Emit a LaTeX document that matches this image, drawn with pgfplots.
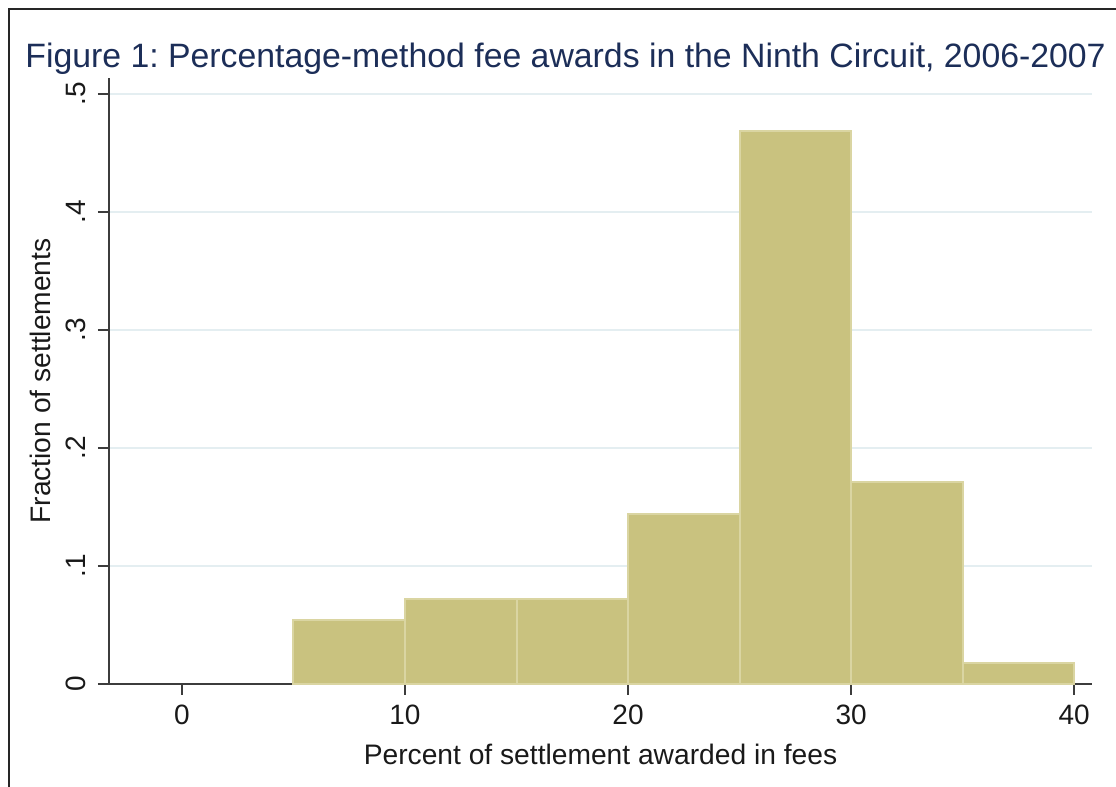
\documentclass[border=0pt]{standalone}
\usepackage{pgfplots}
\pgfplotsset{compat=1.18}
\usepackage{fontspec}
\setmainfont{Liberation Sans}
\frenchspacing
\definecolor{barfill}{RGB}{201,194,127}
\definecolor{baredge}{RGB}{218,213,162}
\definecolor{gridc}{RGB}{228,238,241}
\definecolor{titlec}{RGB}{28,46,88}
\definecolor{axc}{RGB}{60,60,60}
\begin{document}
\begin{tikzpicture}
\useasboundingbox (0,0) rectangle (558pt,393.5pt);
\draw[line width=1.2pt, color=black!85] (4.5pt,-20pt) -- (4.5pt,389pt) -- (580pt,389pt);
\node[anchor=base west, inner sep=0pt, font=\fontsize{16.9}{20}\selectfont, text=titlec] at (12.5pt,359.5pt) {Figure 1: Percentage-method fee awards in the Ninth Circuit, 2006-2007};
\begin{axis}[
  at={(54.5pt,51.5pt)}, anchor=south west,
  scale only axis, width=491.5pt, height=303pt,
  xmin=-3.27, xmax=40.8, ymin=0, ymax=0.5135,
  axis x line*=bottom, axis y line*=left,
  axis line style={color=axc, line width=0.8pt, -},
  tick style={color=axc, line width=0.8pt},
  tick align=outside, major tick length=5.5pt,
  xtick={0,10,20,30,40},
  ytick={0,0.1,0.2,0.3,0.4,0.5},
  yticklabels={0,.1,.2,.3,.4,.5},
  minor tick num=0,
  ymajorgrids, grid style={color=gridc, line width=0.8pt},
  /pgf/number format/assume math mode=true,
  ticklabel style={font=\fontsize{14}{16}\selectfont, text=black!90},
  xticklabel style={yshift=-1.5pt},
  yticklabel style={rotate=90, anchor=south},
  yticklabel shift=2.5pt,
  label style={font=\fontsize{14.1}{16}\selectfont, text=black!90},
  xlabel style={yshift=-2.5pt},
  ylabel style={yshift=1pt},
  xlabel={Percent of settlement awarded in fees},
  ylabel={Fraction of settlements},
  clip=false,
]
\addplot[ybar interval, fill=barfill, draw=baredge, line width=1pt] coordinates {
(5,0.0541) (10,0.0721) (15,0.0721) (20,0.1441) (25,0.4685) (30,0.1712) (35,0.0180) (40,0.0180)
};
\end{axis}
\end{tikzpicture}
\end{document}
